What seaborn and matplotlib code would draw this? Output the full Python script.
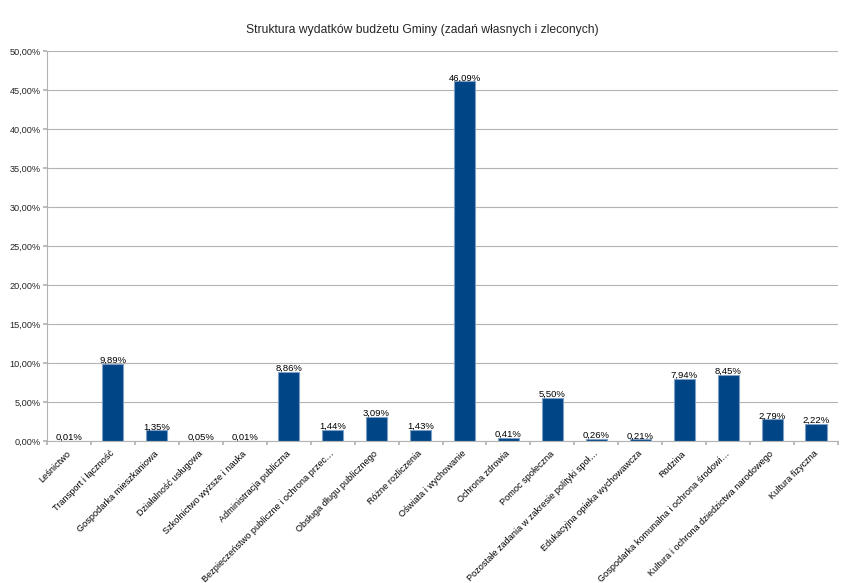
import matplotlib
matplotlib.use("Agg")
import matplotlib.pyplot as plt
import matplotlib.transforms as mtransforms
from matplotlib.ticker import MultipleLocator, FuncFormatter
import seaborn as sns
import pandas as pd

categories = [
    "Leśnictwo",
    "Transport i łączność",
    "Gospodarka mieszkaniowa",
    "Działalność usługowa",
    "Szkolnictwo wyższe i nauka",
    "Administracja publiczna",
    "Bezpieczeństwo publiczne i ochrona przec…",
    "Obsługa długu publicznego",
    "Różne rozliczenia",
    "Oświata i wychowanie",
    "Ochrona zdrowia",
    "Pomoc społeczna",
    "Pozostałe zadania w zakresie polityki społ…",
    "Edukacyjna opieka wychowawcza",
    "Rodzina",
    "Gospodarka komunalna i ochrona środowi…",
    "Kultura i ochrona dziedzictwa narodowego",
    "Kultura fizyczna",
]
shares = [0.01, 9.89, 1.35, 0.05, 0.01, 8.86, 1.44, 3.09, 1.43, 46.09,
          0.41, 5.50, 0.26, 0.21, 7.94, 8.45, 2.79, 2.22]

df = pd.DataFrame({"kategoria": categories, "udzial": shares})

sns.set_theme(style="white")
plt.rcParams["font.family"] = ["Liberation Sans", "DejaVu Sans"]

W, H = 858, 583
fig = plt.figure(figsize=(W / 100, H / 100), dpi=100)
ax = fig.add_axes([47 / W, 1 - 441 / H, (838 - 47) / W, (441 - 51) / H])

sns.barplot(data=df, x="kategoria", y="udzial", color="#004586", saturation=1,
            width=0.48, edgecolor="#7f9fc6", linewidth=0.8, ax=ax)

def pct(v):
    return f"{v:.2f}%".replace(".", ",")

for i, v in enumerate(shares):
    ax.text(i, v - 0.15, pct(v), ha="center", va="bottom", fontsize=6.8, color="#000000")

ax.set_xlim(-0.5, len(categories) - 0.5)
ax.set_ylim(0, 50)
ax.yaxis.set_major_locator(MultipleLocator(5))
ax.yaxis.set_major_formatter(FuncFormatter(lambda v, p: pct(v)))
ax.grid(axis="y", color="#b3b3b3", linewidth=0.8)
ax.set_axisbelow(True)

ax.set_xlabel("")
ax.set_ylabel("")
ax.set_xticks([i - 0.5 for i in range(len(categories) + 1)])
ax.set_xticklabels([])

# category names drawn as rotated texts below the axis
shift = mtransforms.ScaledTranslation(-3 / 100, -8 / 100, fig.dpi_scale_trans)
for i, name in enumerate(categories):
    ax.text(i, 0, name, transform=ax.get_xaxis_transform() + shift,
            rotation=45, ha="right", va="top", rotation_mode="anchor",
            fontsize=6.6, color="#000000")

ax.tick_params(axis="x", length=3, color="#b3b3b3", direction="out", bottom=True)
ax.tick_params(axis="y", length=3, color="#b3b3b3", direction="out", left=True, labelsize=6.6, pad=1.5)

for side in ["top", "right"]:
    ax.spines[side].set_visible(False)
for side in ["left", "bottom"]:
    ax.spines[side].set_color("#b3b3b3")
    ax.spines[side].set_linewidth(0.8)

fig.text(422 / W, 1 - 30 / H, "Struktura wydatków budżetu Gminy (zadań własnych i zleconych)",
         ha="center", va="center", fontsize=8.7)

fig.savefig("out.png", dpi=100, facecolor="white")
